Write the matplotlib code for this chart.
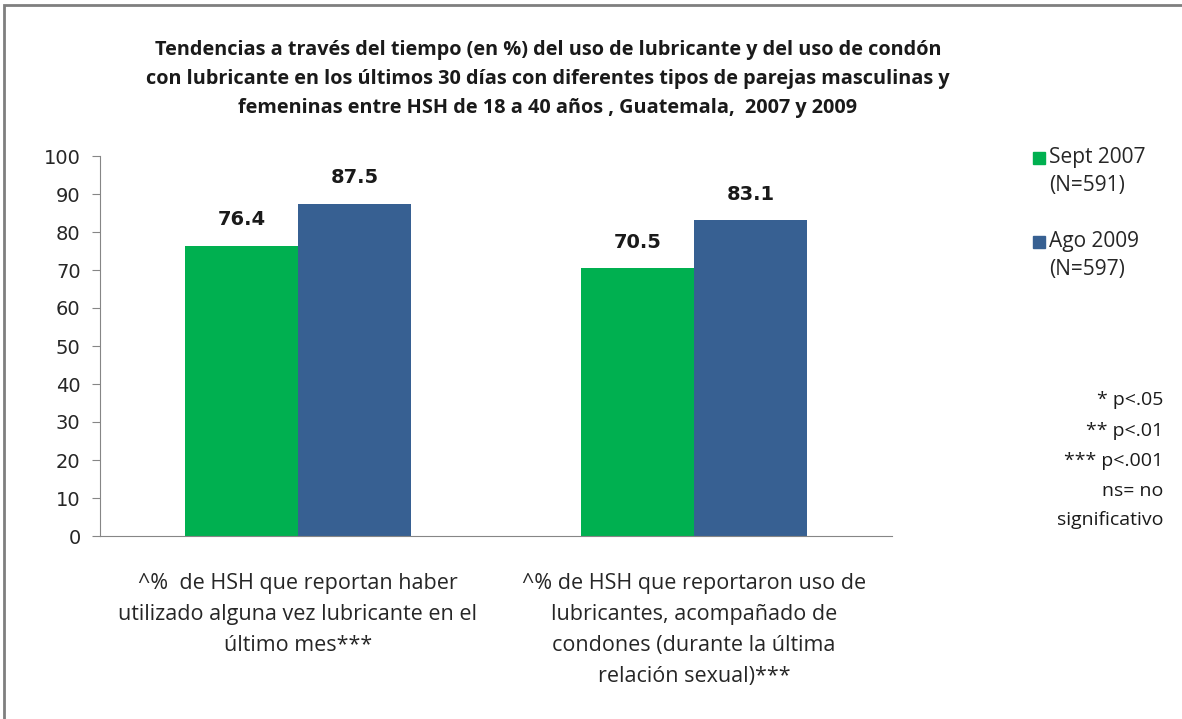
import numpy as np
import matplotlib.pyplot as plt
from matplotlib.patches import Rectangle

categories = [
    "^%  de HSH que reportan haber\nutilizado alguna vez lubricante en el\núltimo mes***",
    "^% de HSH que reportaron uso de\nlubricantes, acompañado de\ncondones (durante la última\nrelación sexual)***",
]
series_names = ["Sept 2007\n(N=591)", "Ago 2009\n(N=597)"]
sept_2007 = [76.4, 70.5]
ago_2009 = [87.5, 83.1]
colors = ["#00B050", "#376092"]
yticks = list(range(0, 101, 10))
title = ("Tendencias a través del tiempo (en %) del uso de lubricante y del uso de condón\n"
         "con lubricante en los últimos 30 días con diferentes tipos de parejas masculinas y\n"
         "femeninas entre HSH de 18 a 40 años , Guatemala,  2007 y 2009")
notes = ["* p<.05", "** p<.01", "*** p<.001", "ns= no", "significativo"]

plt.rcParams["font.family"] = ["Open Sans", "DejaVu Sans"]

W, H = 1182, 719
fig = plt.figure(figsize=(W / 100, H / 100), dpi=100)
# outer frame
fig.patches.append(Rectangle((4 / W, -0.01), 1.1, 1 - 5 / H + 0.01, transform=fig.transFigure,
                             fill=False, edgecolor="#7f7f7f", linewidth=2))

ax = fig.add_axes([100 / W, 1 - 536 / H, 792 / W, 380 / H])
x = np.arange(len(categories))
w = 0.285
b1 = ax.bar(x - w / 2, sept_2007, w, color=colors[0], label=series_names[0])
b2 = ax.bar(x + w / 2, ago_2009, w, color=colors[1], label=series_names[1])
for bars in (b1, b2):
    for r in bars:
        ax.text(r.get_x() + r.get_width() / 2, r.get_height() + 4.3, f"{r.get_height():.1f}",
                ha="center", va="bottom", fontsize=14, fontweight="bold", color="#1a1a1a",
                family="DejaVu Sans")

ax.set_xlim(-0.5, 1.5)
ax.set_ylim(0, 100)
ax.set_yticks(yticks)
ax.tick_params(axis="y", length=6, color="#868686", labelsize=14, labelcolor="#262626", pad=8)
for lab in ax.get_yticklabels():
    lab.set_family("DejaVu Sans")
ax.set_xticks(x)
ax.set_xticklabels(categories, fontsize=15.5, color="#262626", linespacing=1.62)
ax.tick_params(axis="x", length=0, pad=27)
for s in ("top", "right"):
    ax.spines[s].set_visible(False)
for s in ("left", "bottom"):
    ax.spines[s].set_color("#868686")

fig.text(548 / W, 1 - 79 / H, title, ha="center", va="center", fontsize=14.3,
         fontweight="bold", color="#1a1a1a", linespacing=1.6)

# legend built by hand for the stacked layout
leg_y = [158, 242]
for name, c, yy in zip(series_names, colors, leg_y):
    fig.patches.append(Rectangle((1033 / W, 1 - (yy + 6) / H), 12 / W, 12 / H,
                                 transform=fig.transFigure, color=c))
    fig.text(1049 / W, 1 - (yy - 11) / H, name, ha="left", va="top", fontsize=15,
             color="#262626", linespacing=1.45)

note_y = [400, 431, 461, 491, 520]
for t, yy in zip(notes, note_y):
    fig.text(1163 / W, 1 - yy / H, t, ha="right", va="center", fontsize=14, color="#1a1a1a")

fig.savefig("out.png", dpi=100)
